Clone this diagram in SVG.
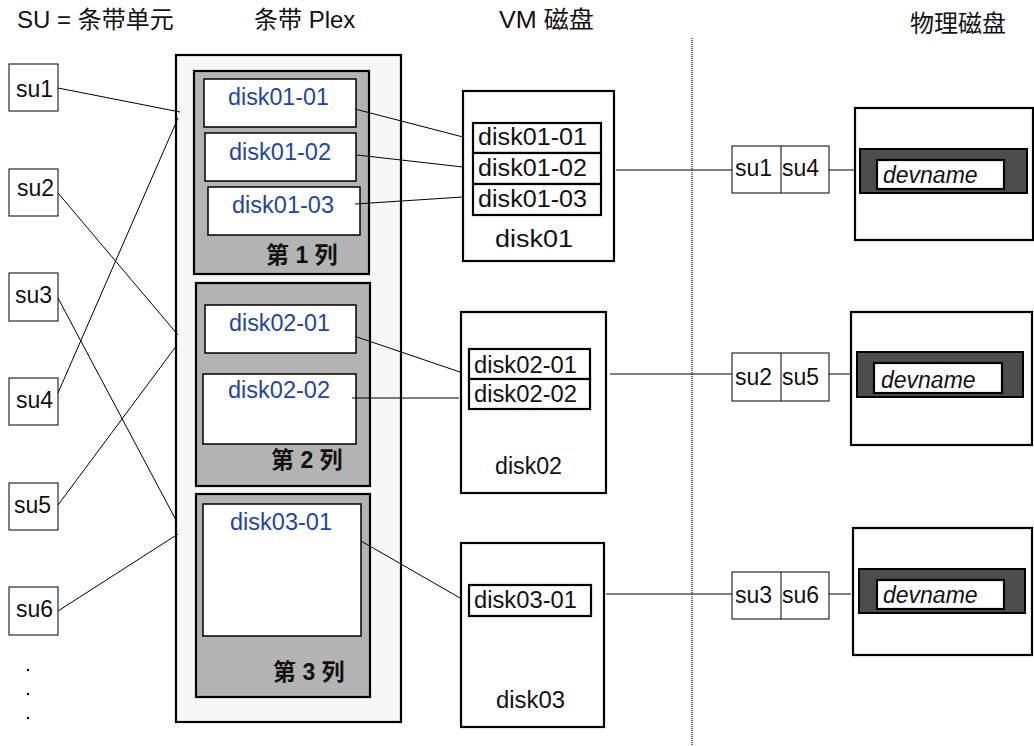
<svg xmlns="http://www.w3.org/2000/svg" width="1034" height="746" viewBox="0 0 1034 746">
<style>
text{font-family:"Liberation Sans","Noto Sans CJK SC",Arial,sans-serif;font-size:23px;fill:#111}
.h{font-size:24px}
.b{fill:#1e45a6}
.bold{font-weight:bold;font-size:23px}
.it{font-style:italic}
.thin{fill:#fff;stroke:#000;stroke-width:1}
.wb{fill:#fff;stroke:#000;stroke-width:1.5}
.thick{fill:#fff;stroke:#000;stroke-width:2.2}
.col{fill:#b3b3b3;stroke:#000;stroke-width:2.2}
.dark{fill:#4d4d4d;stroke:#000;stroke-width:2}
.c line{stroke:#000;stroke-width:1}
</style>
<g id="headers">
<text class="h" x="17" y="28">SU = 条带单元</text>
<text class="h" x="254" y="28">条带 Plex</text>
<text class="h" x="499" y="28" textLength="95" lengthAdjust="spacingAndGlyphs">VM 磁盘</text>
<text class="h" x="910" y="32">物理磁盘</text>
</g>
<line id="divider" x1="692" y1="38" x2="692" y2="746" stroke="#444" stroke-width="1.5" stroke-dasharray="1 1"/>
<g id="su-left">
<g id="su1"><rect class="thin" x="9" y="64" width="49" height="47"/><text x="16" y="97">su1</text></g>
<g id="su2"><rect class="thin" x="9" y="169" width="49" height="47"/><text x="17" y="196">su2</text></g>
<g id="su3"><rect class="thin" x="9" y="273" width="49" height="48"/><text x="15" y="303">su3</text></g>
<g id="su4"><rect class="thin" x="9" y="378" width="49" height="47"/><text x="16" y="408">su4</text></g>
<g id="su5"><rect class="thin" x="9" y="483" width="49" height="47"/><text x="14" y="513">su5</text></g>
<g id="su6"><rect class="thin" x="9" y="587" width="49" height="48"/><text x="16" y="617">su6</text></g>
<g id="dots"><circle cx="28" cy="670" r="1.2" fill="#000"/><circle cx="28" cy="694" r="1.2" fill="#000"/><circle cx="28" cy="718" r="1.2" fill="#000"/></g>
</g>
<g id="plex">
<rect x="176" y="55" width="225" height="667" fill="#f7f7f7" stroke="#000" stroke-width="2.2"/>
<g id="column1">
<rect class="col" x="194" y="71" width="175" height="203"/>
<rect class="wb" x="204" y="79" width="152" height="48"/><text class="b" x="228" y="105" textLength="101" lengthAdjust="spacingAndGlyphs">disk01-01</text>
<rect class="wb" x="205" y="133" width="151" height="48"/><text class="b" x="229" y="160" textLength="102" lengthAdjust="spacingAndGlyphs">disk01-02</text>
<rect class="wb" x="208" y="187" width="152" height="48"/><text class="b" x="232" y="213" textLength="102" lengthAdjust="spacingAndGlyphs">disk01-03</text>
<text class="bold" x="266" y="263">第 1 列</text>
</g>
<g id="column2">
<rect class="col" x="196" y="283" width="174" height="203"/>
<rect class="wb" x="205" y="305" width="151" height="48"/><text class="b" x="229" y="331" textLength="101" lengthAdjust="spacingAndGlyphs">disk02-01</text>
<rect class="wb" x="203" y="374" width="153" height="70"/><text class="b" x="228" y="398" textLength="102" lengthAdjust="spacingAndGlyphs">disk02-02</text>
<text class="bold" x="271" y="468">第 2 列</text>
</g>
<g id="column3">
<rect class="col" x="196" y="494" width="174" height="203"/>
<rect class="wb" x="203" y="504" width="158" height="132"/><text class="b" x="230" y="530" textLength="102" lengthAdjust="spacingAndGlyphs">disk03-01</text>
<text class="bold" x="273" y="680">第 3 列</text>
</g>
</g>
<g id="vm-disk01">
<rect class="thick" x="463" y="91" width="151" height="170"/>
<rect class="thick" x="473" y="123" width="128" height="30"/>
<rect class="thick" x="473" y="153" width="128" height="31"/>
<rect class="thick" x="473" y="184" width="128" height="31"/>
<text x="478" y="145" textLength="109" lengthAdjust="spacingAndGlyphs">disk01-01</text>
<text x="478" y="176" textLength="109" lengthAdjust="spacingAndGlyphs">disk01-02</text>
<text x="478" y="207" textLength="109" lengthAdjust="spacingAndGlyphs">disk01-03</text>
<text x="495" y="247" textLength="78" lengthAdjust="spacingAndGlyphs">disk01</text>
</g>
<g id="vm-disk02">
<rect class="thick" x="461" y="312" width="145" height="181"/>
<rect class="thick" x="469" y="349" width="121" height="30"/>
<rect class="thick" x="469" y="379" width="121" height="30"/>
<text x="474" y="373" textLength="103" lengthAdjust="spacingAndGlyphs">disk02-01</text>
<text x="474" y="402" textLength="103" lengthAdjust="spacingAndGlyphs">disk02-02</text>
<text x="495" y="474" textLength="67" lengthAdjust="spacingAndGlyphs">disk02</text>
</g>
<g id="vm-disk03">
<rect class="thick" x="461" y="543" width="143" height="184"/>
<rect class="thick" x="469" y="585" width="122" height="31"/>
<text x="474" y="608" textLength="103" lengthAdjust="spacingAndGlyphs">disk03-01</text>
<text x="496" y="708" textLength="69" lengthAdjust="spacingAndGlyphs">disk03</text>
</g>
<g id="su-pair1">
<rect class="thin" x="732" y="146" width="97" height="47"/><line x1="781" y1="146" x2="781" y2="193" stroke="#000"/>
<text x="735" y="176">su1</text><text x="782" y="176">su4</text>
</g>
<g id="su-pair2">
<rect class="thin" x="732" y="353" width="97" height="48"/><line x1="781" y1="353" x2="781" y2="401" stroke="#000"/>
<text x="735" y="385">su2</text><text x="782" y="385">su5</text>
</g>
<g id="su-pair3">
<rect class="thin" x="732" y="572" width="97" height="47"/><line x1="781" y1="572" x2="781" y2="619" stroke="#000"/>
<text x="735" y="603">su3</text><text x="782" y="603">su6</text>
</g>
<g id="phys1">
<rect class="thick" x="855" y="108" width="178" height="132"/>
<rect class="dark" x="860" y="149" width="167" height="44"/>
<rect class="thick" x="877" y="160" width="127" height="29"/>
<text class="it" x="883" y="183">devname</text>
</g>
<g id="phys2">
<rect class="thick" x="851" y="312" width="181" height="133"/>
<rect class="dark" x="857" y="352" width="166" height="45"/>
<rect class="thick" x="874" y="363" width="128" height="30"/>
<text class="it" x="881" y="388">devname</text>
</g>
<g id="phys3">
<rect class="thick" x="853" y="528" width="179" height="127"/>
<rect class="dark" x="859" y="569" width="166" height="44"/>
<rect class="thick" x="877" y="580" width="127" height="29"/>
<text class="it" x="883" y="603">devname</text>
</g>
<g id="connectors" class="c">
<line x1="58" y1="88" x2="180" y2="112"/>
<line x1="58" y1="193" x2="178" y2="335"/>
<line x1="58" y1="298" x2="177" y2="522"/>
<line x1="58" y1="393" x2="178" y2="118"/>
<line x1="58" y1="505" x2="177" y2="345"/>
<line x1="58" y1="611" x2="178" y2="534"/>
<line x1="355" y1="109" x2="463" y2="137"/>
<line x1="357" y1="155" x2="463" y2="167"/>
<line x1="355" y1="204" x2="463" y2="197"/>
<line x1="357" y1="337" x2="460" y2="372"/>
<line x1="352" y1="398" x2="459" y2="398"/>
<line x1="361" y1="541" x2="460" y2="598"/>
<line x1="616" y1="170" x2="732" y2="170"/>
<line x1="610" y1="374" x2="732" y2="374"/>
<line x1="606" y1="594" x2="732" y2="594"/>
<line x1="829" y1="170" x2="855" y2="170"/>
<line x1="829" y1="374" x2="851" y2="374"/>
<line x1="829" y1="594" x2="851" y2="594"/>
</g>
</svg>
